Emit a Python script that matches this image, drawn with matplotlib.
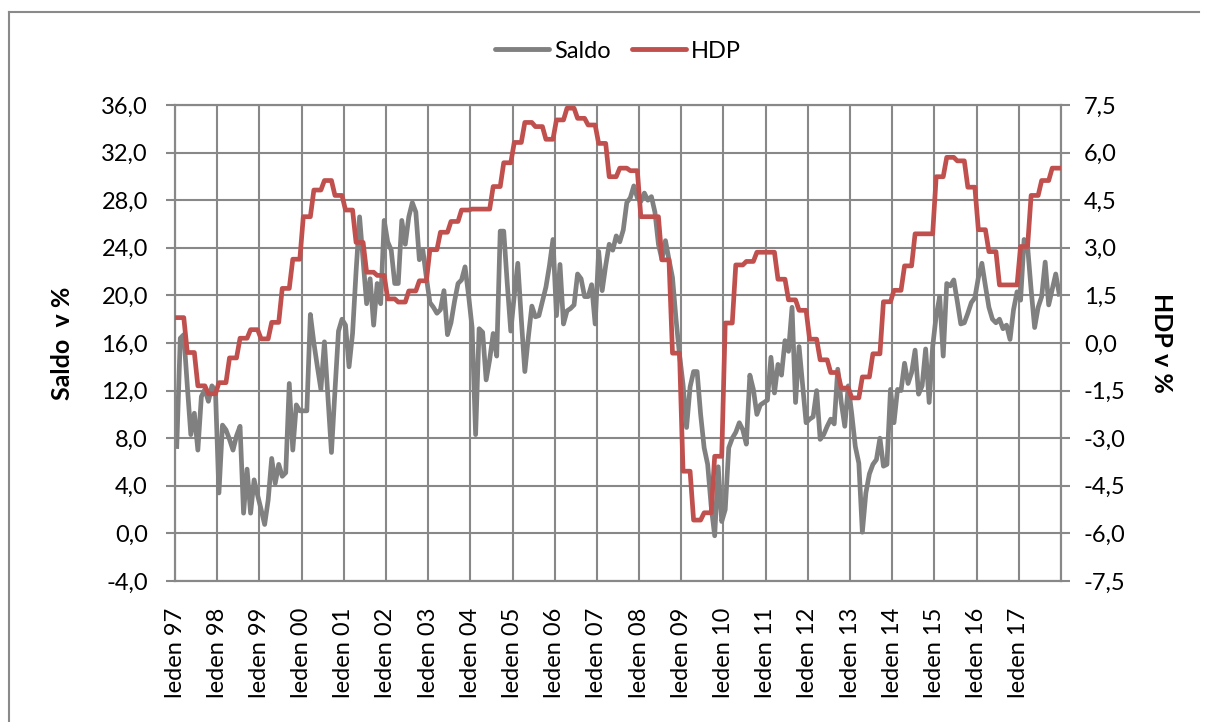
import numpy as np
import matplotlib.pyplot as plt
from matplotlib.lines import Line2D

# Data: monthly Saldo (Jan 1997 - Dec 2017), quarterly HDP
saldo_1997 = [7.3, 16.4, 16.7, 12.4, 8.3, 10.1, 7.0, 11.5, 12.1, 11.1, 12.4, 12.0]
saldo_1998 = [3.4, 9.1, 8.7, 7.9, 7.0, 8.2, 9.0, 1.7, 5.4, 1.7, 4.5, 3.2]
saldo_1999 = [2.0, 0.75, 2.8, 6.3, 4.2, 5.8, 4.8, 5.1, 12.6, 7.0, 10.8, 10.3]
saldo_2000 = [10.3, 10.3, 18.4, 16.0, 14.0, 12.1, 16.1, 11.5, 6.8, 12.0, 17.0, 18.0]
saldo_2001 = [17.5, 14.0, 16.8, 22.0, 26.6, 23.0, 19.3, 21.4, 17.5, 21.0, 19.3, 26.3]
saldo_2002 = [24.5, 23.8, 21.0, 21.0, 26.3, 24.3, 26.6, 27.8, 27.0, 23.0, 23.8, 21.5]
saldo_2003 = [19.4, 19.0, 18.5, 18.8, 20.4, 16.7, 17.7, 19.5, 21.0, 21.3, 22.4, 20.0]
saldo_2004 = [17.3, 8.3, 17.2, 16.9, 12.9, 14.6, 16.8, 14.9, 25.4, 25.4, 21.0, 17.0]
saldo_2005 = [20.0, 22.7, 18.0, 13.6, 16.5, 19.1, 18.2, 18.3, 19.5, 20.7, 22.5, 24.7]
saldo_2006 = [18.3, 22.6, 17.6, 18.7, 18.9, 19.2, 21.8, 21.4, 19.9, 19.9, 20.9, 17.6]
saldo_2007 = [23.7, 20.4, 22.5, 24.3, 23.8, 25.0, 24.5, 25.5, 27.8, 28.2, 29.2, 28.2]
saldo_2008 = [27.9, 28.6, 28.0, 28.3, 27.0, 24.3, 23.0, 24.6, 23.0, 21.5, 18.0, 15.0]
saldo_2009 = [12.5, 8.9, 12.3, 13.6, 13.6, 10.0, 7.2, 5.8, 2.3, -0.2, 5.6, 1.0]
saldo_2010 = [2.0, 7.2, 8.0, 8.5, 9.3, 8.7, 7.5, 13.3, 12.1, 10.0, 10.8, 11.0]
saldo_2011 = [11.2, 14.8, 11.8, 14.2, 13.3, 16.2, 15.3, 19.0, 11.0, 15.7, 12.5, 9.3]
saldo_2012 = [9.6, 9.8, 12.0, 7.9, 8.3, 9.0, 9.6, 9.2, 13.8, 11.0, 9.0, 12.4]
saldo_2013 = [10.0, 7.3, 5.9, 0.1, 3.4, 5.0, 5.8, 6.2, 8.0, 5.65, 5.8, 12.1]
saldo_2014 = [9.3, 12.1, 12.0, 14.3, 12.6, 13.5, 15.4, 11.7, 12.4, 15.5, 11.0, 15.7]
saldo_2015 = [18.3, 19.9, 14.9, 21.0, 20.8, 21.3, 19.5, 17.6, 17.7, 18.5, 19.4, 19.8]
saldo_2016 = [21.5, 22.7, 20.8, 19.0, 18.0, 17.7, 18.0, 17.2, 17.5, 16.3, 18.8, 20.3]
saldo_2017 = [19.6, 24.7, 24.1, 20.5, 17.3, 19.0, 19.9, 22.8, 19.2, 20.5, 21.8, 20.1]

hdp_quarterly = [
    0.8, -0.3, -1.35, -1.6,      # 1997
    -1.25, -0.47, 0.15, 0.42,    # 1998
    0.13, 0.65, 1.72, 2.64,      # 1999
    3.98, 4.82, 5.12, 4.65,      # 2000
    4.19, 3.17, 2.23, 2.13,      # 2001
    1.39, 1.29, 1.64, 1.96,      # 2002
    2.94, 3.49, 3.83, 4.19,      # 2003
    4.22, 4.22, 4.93, 5.68,      # 2004
    6.32, 6.95, 6.82, 6.42,      # 2005
    7.03, 7.40, 7.08, 6.87,      # 2006
    6.29, 5.24, 5.51, 5.43,      # 2007
    3.98, 3.98, 2.62, -0.32,     # 2008
    -4.04, -5.58, -5.35, -3.57,  # 2009
    0.63, 2.46, 2.57, 2.86,      # 2010
    2.86, 2.01, 1.36, 1.03,      # 2011
    0.12, -0.53, -0.93, -1.42,   # 2012
    -1.73, -1.07, -0.34, 1.30,   # 2013
    1.66, 2.43, 3.44, 3.44,      # 2014
    5.24, 5.85, 5.74, 4.91,      # 2015
    3.57, 2.88, 1.83, 1.83,      # 2016
    3.04, 4.65, 5.12, 5.51,      # 2017
]

years = list(range(1997, 2018))
tick_labels = [f"leden {y % 100:02d}" for y in years]

saldo = np.array(saldo_1997 + saldo_1998 + saldo_1999 + saldo_2000 + saldo_2001
                 + saldo_2002 + saldo_2003 + saldo_2004 + saldo_2005 + saldo_2006
                 + saldo_2007 + saldo_2008 + saldo_2009 + saldo_2010 + saldo_2011
                 + saldo_2012 + saldo_2013 + saldo_2014 + saldo_2015 + saldo_2016
                 + saldo_2017)
# quarterly GDP shown for each month of its quarter
hdp = np.repeat(hdp_quarterly, 3)

# Style
GRAY = "#808080"
RED = "#C0504D"
GRID = "#888888"
plt.rcParams["font.family"] = ["Lato", "DejaVu Sans"]
plt.rcParams["font.size"] = 17

fig = plt.figure(figsize=(12.07, 7.22), dpi=100)
ax = fig.add_axes([175 / 1207, 1 - 581 / 722, (1061 - 175) / 1207, (581 - 105) / 722])
ax2 = ax.twinx()

months = np.arange(len(saldo)) + 0.5
ax.plot(months, saldo, color=GRAY, lw=3.4, solid_joinstyle="round", zorder=3)
ax2.plot(months, hdp, color=RED, lw=3.4, solid_joinstyle="round", zorder=3)

ax.set_xlim(0, len(saldo))
ax.set_ylim(-4, 36)
ax2.set_ylim(-7.5, 7.5)

ax.set_yticks(np.arange(-4, 36.1, 4))
ax.set_yticklabels([f"{v:.1f}".replace(".", ",") for v in np.arange(-4, 36.1, 4)])
ax2.set_yticks(np.arange(-7.5, 7.6, 1.5))
ax2.set_yticklabels([f"{v:.1f}".replace(".", ",") for v in np.arange(-7.5, 7.6, 1.5)])

ax.set_xticks(np.arange(0, len(saldo) + 1, 12), minor=False)
ax.set_xticklabels(tick_labels + [""], rotation=90)

ax.grid(True, color=GRID, lw=1.5)
ax.set_axisbelow(True)
for a in (ax, ax2):
    for s in a.spines.values():
        s.set_color(GRID)
        s.set_linewidth(1.5)

ax.tick_params(axis="y", length=6.5, width=1.5, color=GRID, pad=13)
ax2.tick_params(axis="y", length=6.5, width=1.5, color=GRID, pad=10)
ax.tick_params(axis="x", length=0, pad=19)

# axis titles
fig.text(62 / 1207, 1 - 343 / 722, "Saldo  v %", rotation=90, ha="center", va="center",
         fontweight="bold", fontsize=18)
fig.text(1162 / 1207, 1 - 343 / 722, "HDP v %", rotation=270, ha="center", va="center",
         fontweight="bold", fontsize=18)

# legend
handles = [Line2D([], [], color=GRAY, lw=3.5, solid_capstyle="round"),
           Line2D([], [], color=RED, lw=3.5, solid_capstyle="round")]
fig.legend(handles, ["Saldo", "HDP"], loc="center", bbox_to_anchor=(618 / 1207, 1 - 51 / 722),
           ncol=2, frameon=False, handlelength=2.3, handletextpad=0.2, columnspacing=0.9)

# chart frame
fig.add_artist(Line2D([9 / 1207, 9 / 1207], [0, 1 - 12 / 722], transform=fig.transFigure,
                      color="#8a8a8a", lw=1.5))
fig.add_artist(Line2D([9 / 1207, 1199 / 1207], [1 - 12 / 722, 1 - 12 / 722],
                      transform=fig.transFigure, color="#8a8a8a", lw=1.5))

fig.savefig("out.png", dpi=100)
